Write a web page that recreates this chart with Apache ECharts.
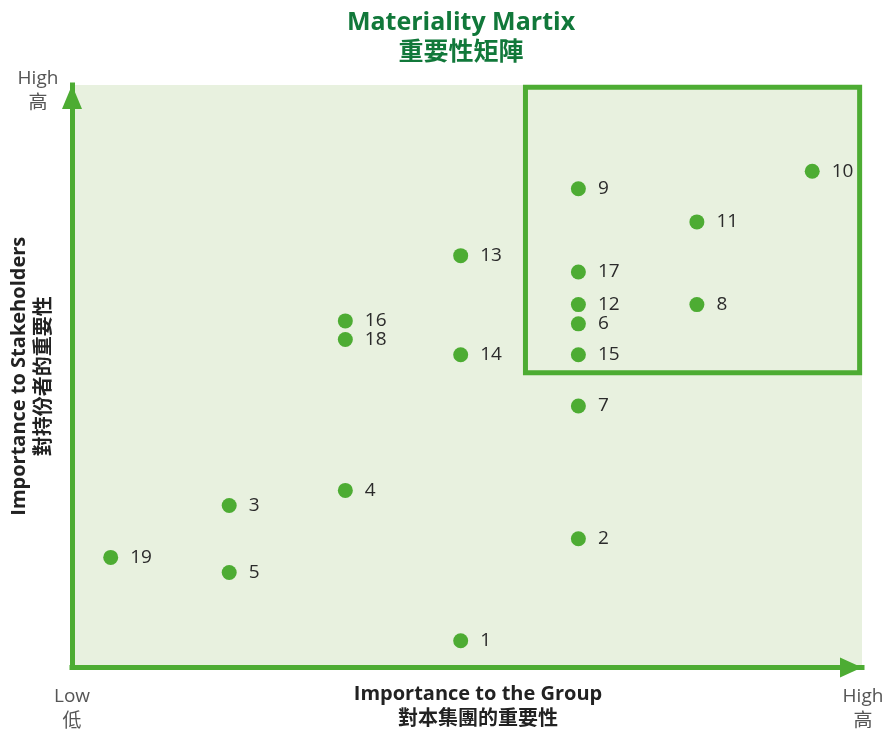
<!DOCTYPE html>
<html>
<head>
<meta charset="utf-8">
<script src="https://cdn.jsdelivr.net/npm/echarts@6/dist/echarts.min.js"></script>
<style>
	html, body { margin: 0; padding: 0; background: #fff; }
	#matrix { width: 885px; height: 734px; }
</style>
</head>
<body>
<div id="matrix"></div>
<script>
// 議題編號
var issueIds = [1, 2, 3, 4, 5, 6, 7, 8, 9, 10, 11, 12, 13, 14, 15, 16, 17, 18, 19];
// 對本集團的重要性 (0-100)
var groupScore = [49.2, 64.1, 19.9, 34.6, 19.9, 64.1, 64.1, 79.1, 64.1, 93.7, 79.1, 64.1, 49.2, 49.2, 64.1, 34.6, 64.1, 34.6, 4.9];
// 對持份者的重要性 (0-100)
var stakeScore = [4.6, 22.1, 27.8, 30.4, 16.3, 59.0, 44.9, 62.3, 82.2, 85.2, 76.5, 62.3, 70.7, 53.7, 53.7, 59.5, 67.9, 56.3, 18.9];
// 重點區域 [x1, y1, x2, y2]
var focusArea = [57.4, 50.6, 99.7, 99.6];

var green = '#4dac33';
var font = '"Open Sans", "Noto Sans CJK TC", sans-serif';

var chart = echarts.init(document.getElementById('matrix'));

var points = [];
for (var i = 0; i < issueIds.length; i++) {
	points.push({ name: String(issueIds[i]), value: [groupScore[i], stakeScore[i]] });
}

var option = {
	animation: false,
	title: {
		text: 'Materiality Martix',
		subtext: '重要性矩陣',
		left: 456,
		top: 5,
		textAlign: 'center',
		itemGap: 5,
		textStyle: { fontFamily: font, fontSize: 25, fontWeight: 'bold', color: '#11783a' },
		subtextStyle: { fontFamily: font, fontSize: 25, fontWeight: 'bold', color: '#11783a' }
	},
	grid: {
		left: 72,
		right: 23,
		top: 85,
		bottom: 64,
		show: true,
		backgroundColor: '#e8f1df',
		borderWidth: 0
	},
	xAxis: {
		type: 'value',
		min: 0,
		max: 100,
		name: '{b|Importance to the Group}\n{n|對本集團的重要性}',
		nameLocation: 'middle',
		nameGap: 14,
		nameTextStyle: {
			padding: [0, 0, 0, 22],
			rich: {
				b: { fontFamily: font, fontSize: 20, fontWeight: 'bold', color: '#222', lineHeight: 25, align: 'center' },
				n: { fontFamily: font, fontSize: 20, fontWeight: 'bold', color: '#222', lineHeight: 25, align: 'center' }
			}
		},
		axisLine: {
			symbol: ['none', 'triangle'],
			symbolSize: [20, 22],
			symbolOffset: [0, -11],
			lineStyle: { color: green, width: 5, cap: 'square' }
		},
		axisTick: { show: false },
		axisLabel: { show: false },
		splitLine: { show: false }
	},
	yAxis: {
		type: 'value',
		min: 0,
		max: 100,
		name: '{b|Importance to Stakeholders}\n{n|對持份者的重要性}',
		nameLocation: 'middle',
		nameGap: 15,
		nameTextStyle: {
			rich: {
				b: { fontFamily: font, fontSize: 20, fontWeight: 'bold', color: '#222', lineHeight: 25, align: 'center' },
				n: { fontFamily: font, fontSize: 20, fontWeight: 'bold', color: '#222', lineHeight: 25, align: 'center' }
			}
		},
		axisLine: {
			symbol: ['none', 'triangle'],
			symbolSize: [20, 24],
			symbolOffset: [0, -12],
			lineStyle: { color: green, width: 5, cap: 'square' }
		},
		axisTick: { show: false },
		axisLabel: { show: false },
		splitLine: { show: false }
	},
	series: [{
		type: 'scatter',
		symbolSize: 15,
		itemStyle: { color: green, opacity: 1 },
		label: {
			show: true,
			position: 'right',
			distance: 12,
			formatter: '{b}',
			fontFamily: font,
			fontSize: 19,
			color: '#2b2b2b'
		},
		data: points,
		markArea: {
			silent: true,
			itemStyle: { color: 'rgba(0,0,0,0)', borderColor: green, borderWidth: 5 },
			data: [[{ coord: [focusArea[0], focusArea[1]] }, { coord: [focusArea[2], focusArea[3]] }]]
		}
	}],
	graphic: [
		{ type: 'text', x: 38, y: 66, style: { text: 'High\n高', font: '19px ' + font, fill: '#555', align: 'center', lineHeight: 25 } },
		{ type: 'text', x: 72, y: 684, style: { text: 'Low\n低', font: '19px ' + font, fill: '#555', align: 'center', lineHeight: 25 } },
		{ type: 'text', x: 863, y: 684, style: { text: 'High\n高', font: '19px ' + font, fill: '#555', align: 'center', lineHeight: 25 } }
	]
};

chart.setOption(option);
</script>
</body>
</html>
